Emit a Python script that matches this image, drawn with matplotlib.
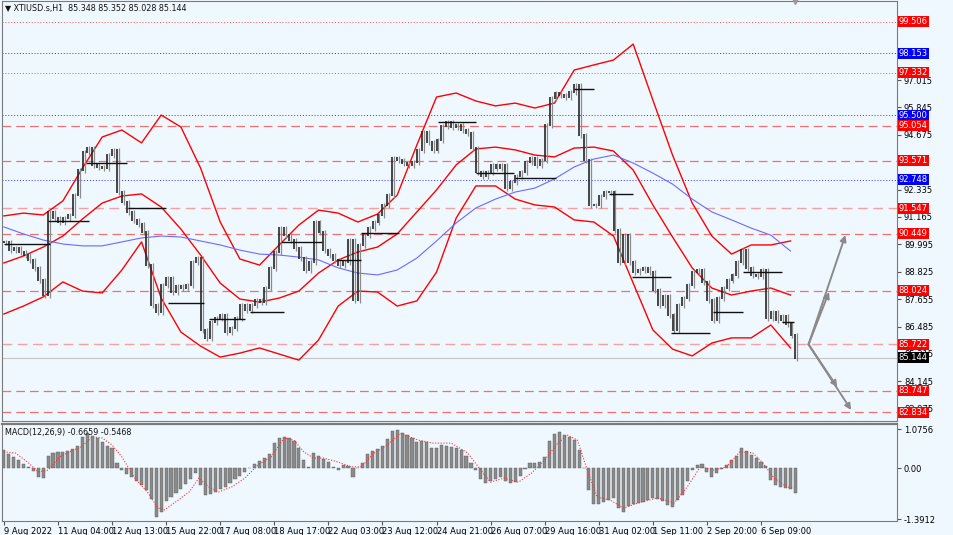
import matplotlib
matplotlib.use("Agg")
import matplotlib.pyplot as plt
import numpy as np

# XTIUSD H1, closes read every 3 hourly bars
close = [90.10, 89.75, 89.84, 89.67, 89.54, 89.33, 88.99, 88.47, 87.83, 91.38,
         91.12, 90.95, 91.12, 91.25, 92.10, 93.17, 93.94, 94.11, 93.39, 93.30,
         93.26, 93.81, 94.03, 92.23, 91.80, 91.38, 91.04, 90.87, 90.52, 89.11,
         87.40, 87.11, 88.26, 88.56, 87.96, 88.22, 88.13, 88.26, 89.24, 89.41,
         86.34, 85.99, 86.68, 86.85, 86.98, 86.25, 86.42, 86.85, 87.40, 87.19,
         87.40, 87.62, 87.53, 88.13, 88.99, 89.67, 90.69, 90.39, 90.18, 89.84,
         89.41, 88.90, 89.24, 90.95, 90.52, 89.75, 89.54, 89.33, 89.11, 89.24,
         90.18, 87.62, 89.97, 90.39, 90.69, 90.95, 91.25, 91.68, 92.10, 93.68,
         93.60, 93.47, 93.39, 93.51, 94.03, 94.79, 94.37, 94.03, 94.45, 95.05,
         95.22, 95.01, 95.09, 94.88, 94.75, 94.11, 93.09, 92.92, 93.09, 93.39,
         93.26, 93.39, 92.40, 92.66, 92.92, 93.09, 93.51, 93.68, 93.39, 93.60,
         95.09, 96.25, 96.46, 96.38, 96.29, 96.50, 96.80, 94.67, 93.60, 91.68,
         91.68, 92.06, 92.23, 92.23, 90.61, 89.24, 90.39, 89.24, 88.81, 88.90,
         88.99, 88.81, 88.05, 87.40, 87.79, 86.98, 86.34, 87.40, 87.70, 88.26,
         88.81, 88.90, 88.39, 87.62, 86.76, 87.70, 88.13, 88.47, 88.69, 89.24,
         89.75, 88.99, 88.69, 88.64, 88.90, 86.85, 87.11, 86.76, 86.93, 86.59,
         86.12, 85.144]

macd = [0.50, 0.40, 0.30, 0.22, 0.13, 0.04, -0.08, -0.24, -0.26, 0.35,
        0.43, 0.45, 0.46, 0.48, 0.52, 0.62, 0.85, 0.97, 0.88, 0.84,
        0.72, 0.60, 0.56, 0.15, -0.05, -0.15, -0.24, -0.35, -0.46, -0.60,
        -0.85, -1.33, -1.20, -0.90, -0.80, -0.68, -0.56, -0.43, -0.28, -0.14,
        -0.45, -0.73, -0.70, -0.64, -0.58, -0.50, -0.40, -0.30, -0.20, -0.10,
        0.02, 0.11, 0.20, 0.28, 0.40, 0.69, 0.82, 0.86, 0.84, 0.74,
        0.55, 0.23, 0.04, 0.42, 0.33, 0.25, 0.17, 0.04, -0.05, 0.10,
        0.05, -0.25, 0.02, 0.15, 0.40, 0.48, 0.54, 0.60, 0.80, 1.02,
        1.04, 0.98, 0.90, 0.82, 0.73, 0.75, 0.72, 0.55, 0.55, 0.64,
        0.60, 0.58, 0.55, 0.50, 0.35, 0.15, -0.05, -0.30, -0.40, -0.34,
        -0.28, -0.24, -0.35, -0.40, -0.38, -0.20, -0.02, 0.15, 0.15, 0.18,
        0.31, 0.75, 0.95, 0.99, 0.92, 0.85, 0.77, 0.50, 0.01, -0.60,
        -0.98, -0.98, -0.93, -0.88, -0.82, -1.10, -1.20, -1.03, -0.97, -0.94,
        -0.92, -0.88, -0.82, -0.85, -0.91, -1.00, -1.05, -0.88, -0.73, -0.35,
        -0.05, 0.08, 0.12, -0.10, -0.24, -0.12, -0.02, 0.10, 0.22, 0.33,
        0.55, 0.48, 0.36, 0.28, 0.18, 0.05, -0.32, -0.46, -0.50, -0.53,
        -0.56, -0.6659]

sig_bars = [0, 7, 15, 21, 27, 34, 40, 47, 54, 60, 66, 72, 80, 88, 94, 98, 104,
            113, 119, 125, 131, 139, 147, 155, 163, 171, 177, 183, 189, 195,
            204, 212, 218, 226, 234, 242, 253, 262, 273, 283, 291, 297, 305,
            314, 322, 330, 338, 344, 350, 356, 362, 370, 378, 387, 399, 409,
            417, 425, 433, 441, 449, 457, 463, 470, 478, 482]
sig_vals = [0.45, 0.42, 0.15, -0.10, -0.05, 0.31, 0.45, 0.58, 0.86, 0.83, 0.64,
            0.31, -0.27, -0.68, -1.09, -1.14, -0.95, -0.65, -0.27, -0.51, -0.65,
            -0.51, -0.27, 0.09, 0.31, 0.83, 0.77, 0.45, 0.28, 0.28, 0.17, 0.04,
            0.04, 0.42, 0.64, 0.96, 0.77, 0.69, 0.69, 0.42, -0.05, -0.38, -0.27,
            -0.38, -0.13, 0.23, 0.69, 0.91, 0.77, -0.05, -0.79, -0.87, -1.09,
            -0.95, -0.81, -0.95, -0.51, 0.04, -0.05, 0.04, 0.45, 0.42, 0.15,
            -0.27, -0.51, -0.5468]

# bollinger bands and moving average, read every 12 bars
band_bars = list(range(0, 481, 12))
bb_upper = [91.21, 91.33, 91.25, 91.85, 93.26, 94.58, 94.88, 94.33, 95.52, 95.01,
            93.26, 90.95, 89.37, 89.11, 89.97, 90.82, 91.46, 91.33, 90.95, 91.29,
            92.10, 94.24, 96.29, 96.46, 96.12, 95.91, 96.03, 95.82, 96.03, 97.44,
            97.66, 97.87, 98.55, 96.16, 93.81, 91.76, 90.35, 89.58, 89.97, 89.97,
            90.14]
bb_mid = [89.20, 89.50, 89.88, 90.35, 91.08, 91.76, 92.06, 92.15, 91.59, 90.65,
          89.54, 88.34, 87.66, 87.53, 87.70, 88.00, 88.77, 89.33, 89.67, 89.88,
          90.44, 91.38, 92.32, 93.39, 94.07, 94.15, 94.03, 93.81, 93.73, 94.11,
          94.15, 93.98, 93.17, 91.68, 90.31, 88.99, 88.13, 87.83, 88.00, 88.13,
          87.83]
bb_lower = [87.02, 87.36, 87.75, 88.39, 88.00, 87.92, 88.90, 90.10, 87.70, 86.25,
            85.65, 85.18, 85.35, 85.57, 85.31, 85.05, 85.91, 87.36, 88.00, 87.96,
            87.36, 87.58, 88.81, 91.12, 92.49, 92.49, 91.93, 91.68, 91.59, 91.04,
            90.95, 90.35, 88.34, 86.34, 85.52, 85.23, 85.78, 86.00, 86.00, 86.55,
            85.57]
ma_slow = [90.74, 90.44, 90.18, 90.01, 89.93, 89.93, 90.10, 90.27, 90.35, 90.31,
           90.14, 89.97, 89.75, 89.58, 89.54, 89.45, 89.33, 88.99, 88.77, 88.69,
           88.90, 89.41, 90.14, 90.91, 91.55, 91.93, 92.23, 92.40, 92.79, 93.30,
           93.64, 93.81, 93.47, 93.04, 92.57, 91.93, 91.38, 91.04, 90.69, 90.39,
           89.71]

# daily open segments
seg_start = [0, 27, 50, 76, 100, 125, 150, 169, 203, 218, 265, 288, 312, 348, 369, 383, 407, 433, 451, 475]
seg_end = [28, 52, 75, 99, 122, 147, 171, 194, 218, 241, 288, 311, 337, 360, 384, 407, 431, 451, 475, 482]
seg_price = [90.01, 90.99, 93.47, 91.55, 87.49, 86.81, 87.11, 90.10, 89.33, 90.48,
             95.22, 93.04, 92.83, 96.63, 92.15, 88.60, 86.21, 87.11, 88.81, 86.68]

# horizontal levels
level_price = [99.506, 98.153, 97.332, 95.500, 95.054, 93.571, 92.748, 91.547,
               90.449, 88.024, 85.722, 83.747, 82.834]
level_kind = ['rdot', 'blue', 'rdot', 'blue', 'red', 'red', 'blue', 'pale',
              'red', 'red', 'pale', 'red', 'red']

# 93.505 sits fully under the 93.571 tag in the terminal, so it shows no text
price_ticks = [97.015, 95.845, 94.675, 93.505, 92.335, 91.165, 89.995, 88.825,
               87.655, 86.485, 85.315, 84.145, 82.975]
price_tick_labels = ['97.015', '95.845', '94.675', '', '92.335', '91.165', '89.995',
                     '88.825', '87.655', '86.485', '85.315', '84.145', '82.975']
date_ticks = [0, 33, 66, 99, 132, 165, 198, 231, 264, 297, 330, 363, 396, 429, 462]
date_labels = ['9 Aug 2022', '11 Aug 04:00', '12 Aug 13:00', '15 Aug 22:00',
               '17 Aug 08:00', '18 Aug 17:00', '22 Aug 03:00', '23 Aug 12:00',
               '24 Aug 21:00', '26 Aug 07:00', '29 Aug 16:00', '31 Aug 02:00',
               '1 Sep 11:00', '2 Sep 20:00', '6 Sep 09:00']
last_price = 85.144

bg = '#f0f8ff'
fig = plt.figure(figsize=(9.54, 5.35), dpi=100, facecolor=bg)
ax = fig.add_axes([0.002, 0.2131, 0.9383, 0.785], facecolor=bg)
ax2 = fig.add_axes([0.002, 0.0262, 0.9383, 0.1813], facecolor=bg)

bars = np.arange(len(close)) * 3

# levels
for p, kind in zip(level_price, level_kind):
    if kind == 'blue':
        ax.axhline(p, color='#3030ff', lw=0.7, ls=(0, (1, 2)), zorder=1)
    elif kind == 'rdot':
        ax.axhline(p, color='#ff5050', lw=0.7, ls=(0, (1, 2)), zorder=1)
    elif kind == 'pale':
        ax.axhline(p, color='#f6a0a0', lw=1.0, ls=(0, (7, 4)), zorder=1)
    else:
        ax.axhline(p, color='#f07070', lw=0.9, ls=(0, (7, 4)), zorder=1)
ax.axhline(last_price, color='#c4c4c4', lw=0.8, zorder=1)

# bands
ax.plot(band_bars, bb_upper, color='#ff0000', lw=1.0, zorder=2)
ax.plot(band_bars, bb_mid, color='#ff0000', lw=1.0, zorder=2)
ax.plot(band_bars, bb_lower, color='#ff0000', lw=1.0, zorder=2)
ax.plot(band_bars, ma_slow, color='#6a6aff', lw=0.8, zorder=2)

# price bars (open = previous close)
opens = [close[0]] + close[:-1]
for x, o, c in zip(bars, opens, close):
    lo, hi = min(o, c), max(o, c)
    ax.vlines(x + 1.2, lo - 0.12, hi + 0.1, color='#8c8c8c', lw=0.9, zorder=3)
    ax.vlines(x, lo - 0.05, hi + 0.05, color='#262626', lw=1.2, zorder=3)

for s, e, p in zip(seg_start, seg_end, seg_price):
    ax.hlines(p, s, e, color='#111111', lw=1.0, zorder=4)

# projection arrows
apex = (491, 85.722)
arrow_kw = dict(arrowstyle='-|>', color='#8a8a8a', lw=1.4, mutation_scale=9, shrinkA=0, shrinkB=0)
ax.annotate('', xy=(513.5, 90.39), xytext=apex, arrowprops=arrow_kw, zorder=5)
ax.annotate('', xy=(503.5, 87.96), xytext=apex, arrowprops=arrow_kw, zorder=5)
ax.annotate('', xy=(517, 82.92), xytext=apex, arrowprops=arrow_kw, zorder=5)
ax.annotate('', xy=(508.5, 83.90), xytext=apex, arrowprops=arrow_kw, zorder=5)

ax.set_xlim(-1.2, 545)
ax.set_ylim(82.45, 100.39)
ax.yaxis.tick_right()
ax.set_yticks(price_ticks)
ax.set_yticklabels(price_tick_labels)
ax.tick_params(axis='y', labelsize=6, length=3, pad=2, color='#555555')
ax.set_xticks([])
for sp in ax.spines.values():
    sp.set_color('#7a7a7a')
    sp.set_linewidth(0.8)

ytr = ax.get_yaxis_transform()
colors = {'blue': '#0000ff', 'rdot': '#ff0000', 'red': '#ff0000', 'pale': '#ff0000'}
for p, kind in zip(level_price, level_kind):
    ax.text(1.002, p, '%.3f' % p, transform=ytr, fontsize=6, color='white',
            va='center', ha='left', clip_on=False, zorder=10,
            bbox=dict(boxstyle='square,pad=0.12', fc=colors[kind], ec='none'))
ax.text(1.002, last_price, '%.3f' % last_price, transform=ytr, fontsize=6, color='white',
        va='center', ha='left', clip_on=False, zorder=11,
        bbox=dict(boxstyle='square,pad=0.12', fc='black', ec='none'))

ax.text(0.004, 0.992, '\u25bc XTIUSD.s,H1  85.348 85.352 85.028 85.144',
        transform=ax.transAxes, fontsize=5.8, va='top', ha='left', color='#111111')
ax.plot([483], [100.39], marker='v', color='#9a9a9a', ms=5, clip_on=False, zorder=6)

# MACD panel
ax2.bar(bars, macd, width=1.9, color='#8a8a8a', edgecolor='#5a5a5a', linewidth=0.3, zorder=2)
ax2.plot(sig_bars, sig_vals, color='#ff3030', lw=0.8, ls=(0, (1, 1.5)), zorder=3)
ax2.set_xlim(-1.2, 545)
ax2.set_ylim(-1.444, 1.214)
ax2.yaxis.tick_right()
ax2.set_yticks([1.0756, 0.0, -1.3912])
ax2.set_yticklabels(['1.0756', '0.00', '-1.3912'])
ax2.tick_params(axis='y', labelsize=6, length=3, pad=2, color='#555555')
ax2.set_xticks(date_ticks)
ax2.set_xticklabels(date_labels)
ax2.tick_params(axis='x', labelsize=6, length=3, pad=1.5, color='#555555')
for lbl in ax2.get_xticklabels():
    lbl.set_ha('left')
for sp in ax2.spines.values():
    sp.set_color('#7a7a7a')
    sp.set_linewidth(0.8)
ax2.spines['top'].set_linewidth(1.6)
ax2.text(0.003, 0.96, 'MACD(12,26,9) -0.6659 -0.5468', transform=ax2.transAxes,
         fontsize=5.8, va='top', ha='left', color='#111111')

fig.savefig('out.png', dpi=100, facecolor=bg)
